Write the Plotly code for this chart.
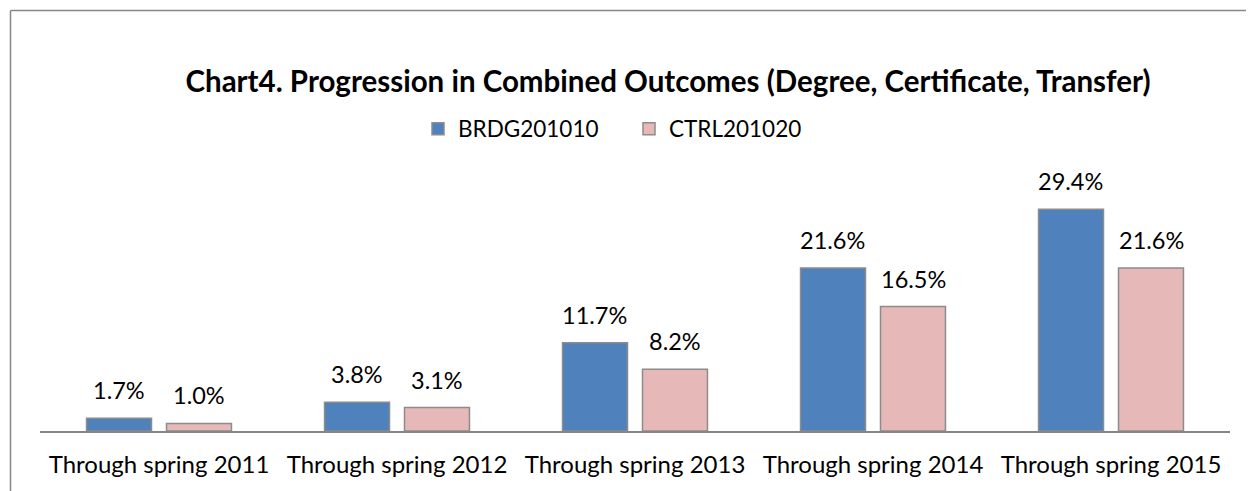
import plotly.graph_objects as go

categories = ["Through spring 2011", "Through spring 2012", "Through spring 2013",
              "Through spring 2014", "Through spring 2015"]
brdg = [1.7, 3.8, 11.7, 21.6, 29.4]
ctrl = [1.0, 3.1, 8.2, 16.5, 21.6]
series_names = ["BRDG201010", "CTRL201020"]
title_text = "Chart4. Progression in Combined Outcomes (Degree, Certificate, Transfer)"

# page body has an 8px margin; figure sized to fit in the window
OFF = 8
W, H = 1254 - OFF, 491 - OFF
L, R, T, B = 40 - OFF, 24, 167 - OFF, 60
FONT = "Lato"

fig = go.Figure()
colors = ["#4F81BD", "#E6B9B8"]
for name, vals, col in zip(series_names, [brdg, ctrl], colors):
    fig.add_trace(go.Bar(
        x=categories, y=vals, name=name,
        marker=dict(color=col, line=dict(color="#8C8C8C", width=1.5)),
        hoverinfo="skip",
    ))

# data labels
annotations = []
for i, (vals, shift) in enumerate([(brdg, -0.17), (ctrl, 0.17)]):
    for j, v in enumerate(vals):
        annotations.append(dict(
            x=j + shift, y=v, xref="x", yref="y", text=f"{v:.1f}%",
            showarrow=False, yanchor="middle", yshift=28,
            font=dict(family=FONT, size=23.5, color="#000000"),
        ))
fig.update_layout(annotations=annotations)

fig.update_layout(
    width=W, height=H,
    margin=dict(l=L, r=R, t=T, b=B, autoexpand=False),
    paper_bgcolor="white", plot_bgcolor="white",
    barmode="group", bargap=0.328, bargroupgap=0.1875,
    title=dict(text="<b>" + title_text + "</b>", x=(668 - OFF) / W, xanchor="center",
               y=1 - (82 - OFF) / H, yanchor="middle",
               font=dict(family=FONT, size=29.5, color="#000000")),
    legend=dict(orientation="h", x=(629 - OFF) / W, xanchor="center", xref="container",
                y=1 - (129 - OFF) / H, yanchor="middle", yref="container",
                font=dict(family=FONT, size=22.5, color="#000000"),
                itemwidth=30, entrywidth=166),
    xaxis=dict(showline=True, linecolor="#868686", linewidth=1.5, ticks="",
               tickfont=dict(family=FONT, size=24, color="#000000"),
               ticklabelstandoff=11,
               showgrid=False, fixedrange=True),
    yaxis=dict(range=[0, 35], visible=False, showgrid=False, fixedrange=True),
    showlegend=True,
)

pw = W - L - R
ph = H - T - B
def px_to_paper_x(px):
    return (px - OFF - L) / pw
def py_to_paper_y(py):
    return (H - B - (py - OFF)) / ph

fig.add_shape(type="line", xref="paper", yref="paper",
              x0=px_to_paper_x(10.5), x1=px_to_paper_x(10.5),
              y0=py_to_paper_y(10.5), y1=py_to_paper_y(500),
              line=dict(color="#878787", width=1.5))
fig.add_shape(type="line", xref="paper", yref="paper",
              x0=px_to_paper_x(10.5), x1=px_to_paper_x(1270),
              y0=py_to_paper_y(10.5), y1=py_to_paper_y(10.5),
              line=dict(color="#878787", width=1.5))

fig.write_html("out.html", config={"displayModeBar": False})
